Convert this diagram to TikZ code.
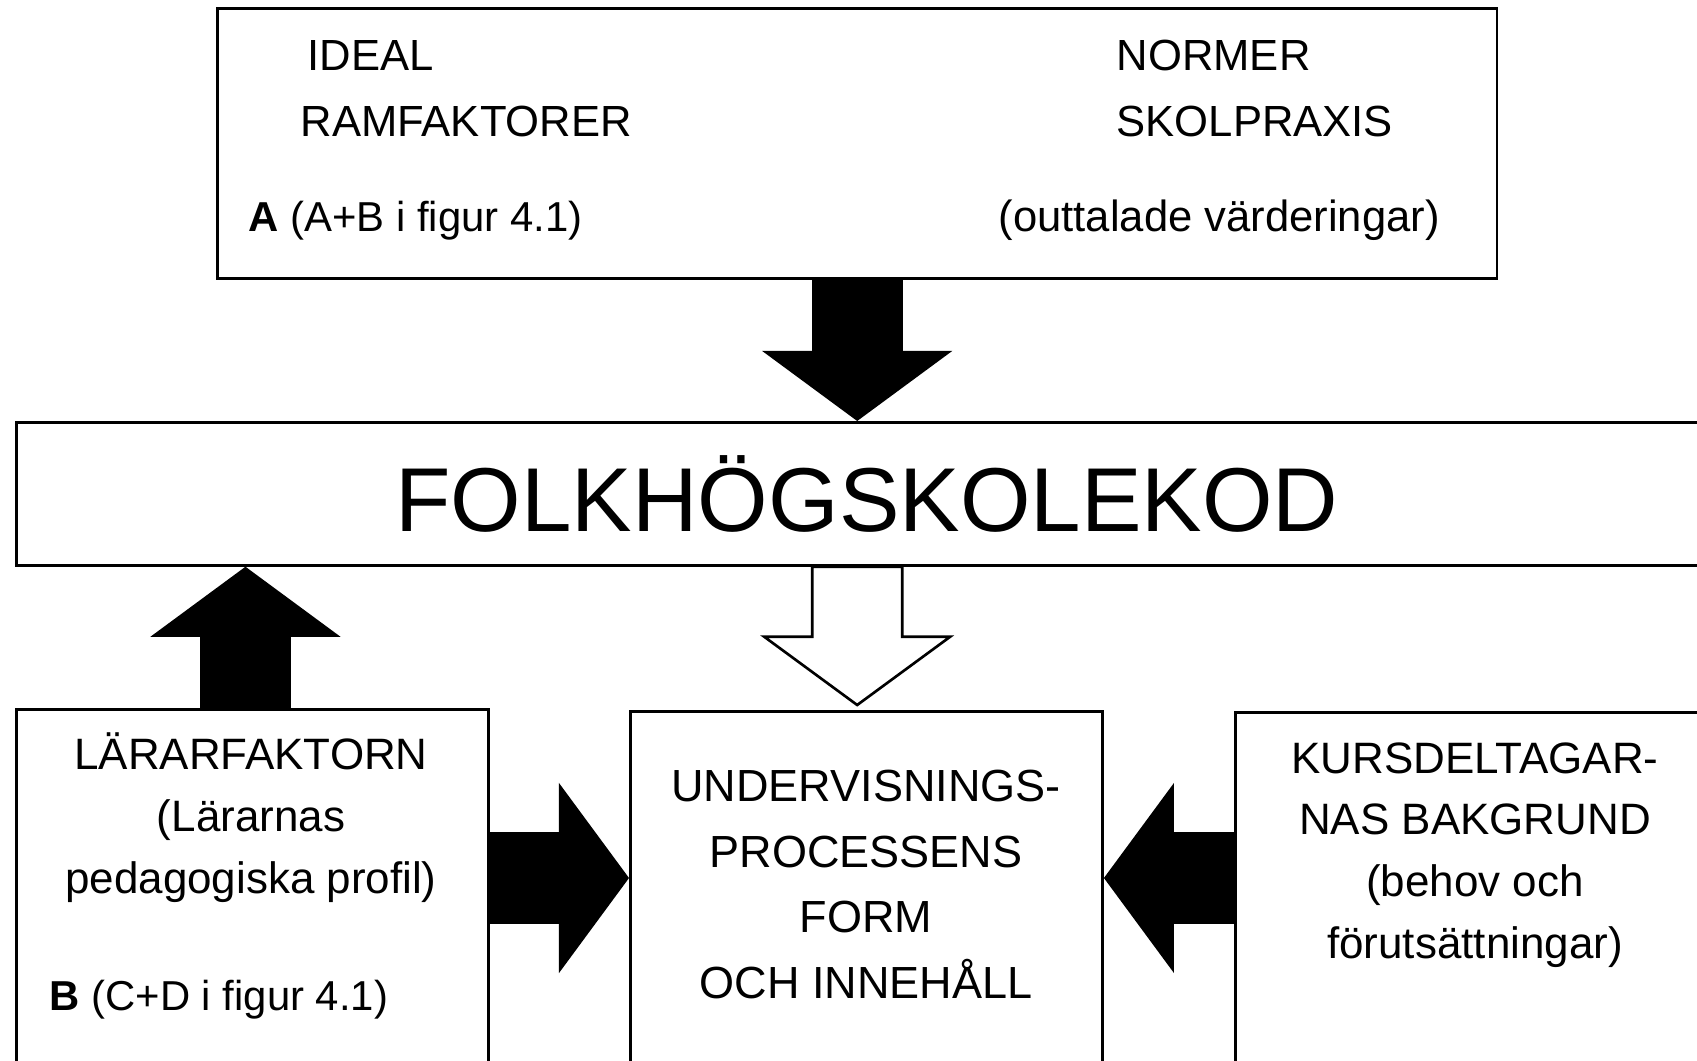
\documentclass[tikz,border=0pt]{standalone}
\usepackage{fontspec}
\setmainfont{Liberation Sans}
\usepackage{tikz}
\usetikzlibrary{arrows.meta}
\usetikzlibrary{positioning}
\usetikzlibrary{calc}
\tikzstyle{box} = [rectangle, draw=black, line width=0.75pt, fill=white, inner sep=0pt]
\tikzstyle{toptext} = [anchor=base west, inner sep=0pt, font=\fontsize{12.4}{15}\selectfont]
\tikzstyle{boxtext} = [anchor=base, inner sep=0pt, align=center, font=\fontsize{12.5}{17.5}\selectfont]
\tikzstyle{fatarrow} = [line width=0.91cm, -{Triangle[length=0.7cm, width=1.9cm, line width=0pt]}]
\tikzstyle{hollowarrow} = [draw=black, line width=0.75pt, fill=white]

\begin{document}
\begin{tikzpicture}[x=0.01cm, y=-0.01cm]
\useasboundingbox (0,0) rectangle (1697,1061);
\clip (0,0) rectangle (1697,1061);

% boxes
\node (top) [box, anchor=north west, minimum width=12.79cm, minimum height=2.70cm] at (216,7) {};
\node (kod) [box, anchor=north west, minimum width=17cm, minimum height=1.43cm, font=\fontsize{25.8}{30}\selectfont] at (15,421) {FOLKHÖGSKOLEKOD};
\node (lar) [box, anchor=north west, minimum width=4.72cm, minimum height=4cm] at (15,708) {};
\node (mid) [box, anchor=north west, minimum width=4.72cm, minimum height=4cm] at (629,710) {};
\node (kurs) [box, anchor=north west, minimum width=5cm, minimum height=4cm] at (1234,711) {};

% arrows
\coordinate (row) at (0,878);
\coordinate (hs) at (top.south |- kod.south);
\draw [fatarrow] (top.south) -- (top.south |- kod.north);
\draw [fatarrow] ([xshift=-0.07cm]lar.north) -- ([xshift=-0.07cm]lar.north |- kod.south);
\draw [fatarrow] (lar.east |- row) -- (mid.west |- row);
\draw [fatarrow] (kurs.west |- row) -- (mid.east |- row);
\draw [hollowarrow] ($(hs)+(-45,0)$) -- ++(0,70) -- ++(-48,0) -- ($(hs |- mid.north)+(0,-5)$) -- ($(hs)+(93,70)$) -- ++(-48,0) -- ++(0,-70) -- cycle;

% texts in the top box
\node (ideal) [toptext] at (307,71) {IDEAL};
\node (ram) [toptext] at (300,137) {RAMFAKTORER};
\node (figa) [toptext, font=\fontsize{11.9}{15}\selectfont] at (248,232) {\textbf{A} (A+B i figur 4.1)};
\node (normer) [toptext] at (1116,71) {NORMER};
\node (skol) [toptext] at (1116,137) {SKOLPRAXIS};
\node (vard) [toptext] at (998,232) {(outtalade värderingar)};

% texts in the lower boxes
\node (lartext) [boxtext] at (251,893) {LÄRARFAKTORN\\(Lärarnas\\pedagogiska profil)};
\node (figb) [toptext, font=\fontsize{11.9}{15}\selectfont] at (49,1010) {\textbf{B} (C+D i figur 4.1)};
\node (midtext) [boxtext, font=\fontsize{12.8}{18.6}\selectfont] at (866,998) {UNDERVISNINGS-\\PROCESSENS\\FORM\\OCH INNEHÅLL};
\node (kurstext) [boxtext] at (1475,958) {KURSDELTAGAR-\\NAS BAKGRUND\\(behov och\\förutsättningar)};

\end{tikzpicture}
\end{document}
